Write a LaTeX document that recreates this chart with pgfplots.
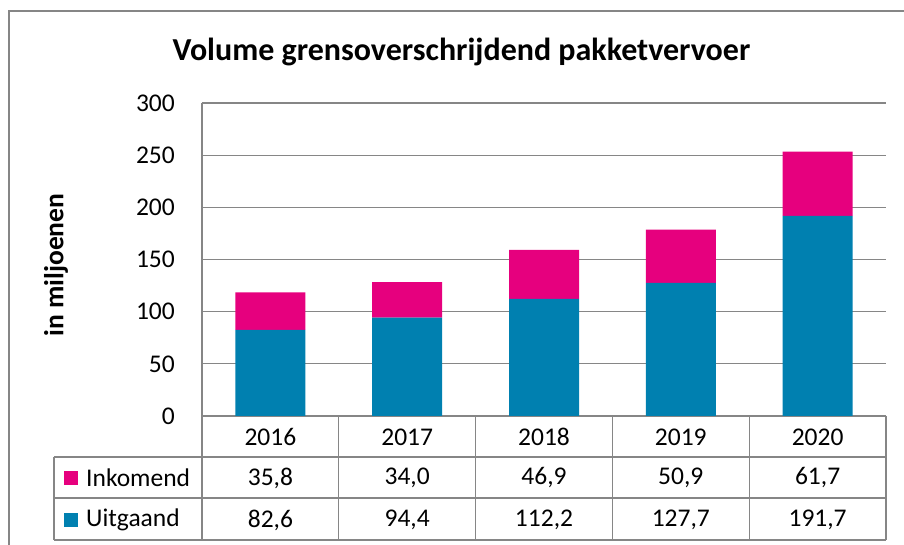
\documentclass[border=0pt]{standalone}
\usepackage{fontspec}
\setmainfont{Carlito}
\usepackage{pgfplots}
\usepackage{pgfplotstable}
\pgfplotsset{compat=1.18}
\pgfkeys{/pgf/number format/assume math mode=true}

\definecolor{inkomend}{RGB}{230,0,126}
\definecolor{uitgaand}{RGB}{0,128,176}
\definecolor{rooster}{RGB}{134,134,134}

% bedragen in miljoenen pakketten
\pgfplotstableread{
x year uit ink
0 2016 82.6 35.8
1 2017 94.4 34.0
2 2018 112.2 46.9
3 2019 127.7 50.9
4 2020 191.7 61.7
}\data

\newcommand{\tabfont}{\fontsize{25.5bp}{30bp}\selectfont}

\begin{document}
\begin{tikzpicture}[x=1bp,y=1bp]
\useasboundingbox (-202,-129) rectangle (702,416);
\begin{axis}[
  scale only axis, width=684bp, height=313bp,
  ybar stacked, bar width=70bp,
  xmin=-0.5, xmax=4.5, ymin=0, ymax=300,
  xtick=data, xticklabels from table={\data}{year},
  ytick={0,50,...,300},
  ymajorgrids, grid style={rooster, line width=1.2bp},
  axis x line*=bottom, axis y line*=left,
  axis line style={rooster, line width=1.2bp, -},
  major tick length=0pt,
  tick label style={font=\tabfont},
  yticklabel style={anchor=east, inner sep=0pt, xshift=-27bp},
  xticklabel style={anchor=center, inner sep=0pt, yshift=-21bp},
  clip=false,
]
\addplot[fill=uitgaand, draw=none] table[x=x,y=uit]{\data};
\addplot[fill=inkomend, draw=none] table[x=x,y=ink]{\data};
\end{axis}

% gegevenstabel onder de grafiek
\begin{scope}[rooster, line width=1.2bp]
  \foreach \yy in {-41,-82,-124} \draw (-148,\yy) -- (684,\yy);
  \foreach \k in {0,...,5} \draw (136.8*\k,0) -- (136.8*\k,-124);
  \draw (-148,-41) -- (-148,-124);
\end{scope}
\fill[inkomend] (-138,-69) rectangle (-124,-55);
\fill[uitgaand] (-138,-111) rectangle (-124,-97);
\node[anchor=west, inner sep=0pt, font=\tabfont] at (-116,-62) {Inkomend};
\node[anchor=west, inner sep=0pt, font=\tabfont] at (-116,-104) {Uitgaand};
\foreach \i in {0,...,4} {
  \pgfplotstablegetelem{\i}{ink}\of\data
  \node[font=\tabfont] at (136.8*\i+68.4,-62)
    {\pgfmathprintnumber[fixed,fixed zerofill,precision=1,use comma]{\pgfplotsretval}};
  \pgfplotstablegetelem{\i}{uit}\of\data
  \node[font=\tabfont] at (136.8*\i+68.4,-104)
    {\pgfmathprintnumber[fixed,fixed zerofill,precision=1,use comma]{\pgfplotsretval}};
}

% kader, titel, aslabel
\draw[rooster, line width=1.2bp] (-193,-129) -- (-193,405) -- (702,405);
\node[font=\fontsize{32bp}{38bp}\selectfont\bfseries] at (259.5,364)
  {Volume grensoverschrijdend pakketvervoer};
\node[rotate=90, font=\fontsize{27.5bp}{32bp}\selectfont\bfseries] at (-146,151)
  {in miljoenen};
\end{tikzpicture}
\end{document}
